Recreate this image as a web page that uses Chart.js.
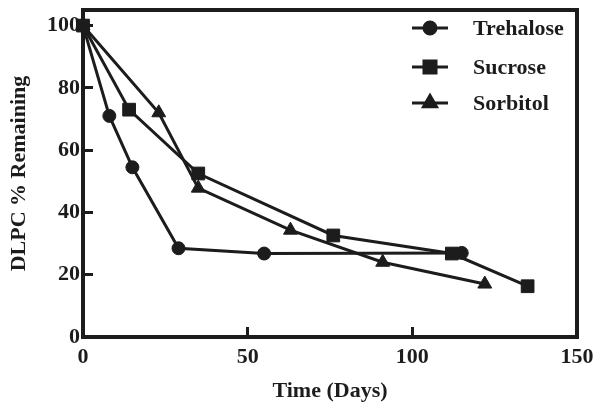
<!DOCTYPE html>
<html>
<head>
<meta charset="utf-8">
<script src="https://cdn.jsdelivr.net/npm/chart.js@4"></script>
<style>
	html, body { margin: 0; padding: 0; background: #fff; }
	#wrap { width: 602px; height: 413px; }
</style>
</head>
<body>
<div id="wrap"><canvas id="line-chart" width="602" height="413"></canvas></div>
<script>
const seriesNames = ['Trehalose', 'Sucrose', 'Sorbitol'];
const trehaloseDays = [0, 8, 15, 29, 55, 115];
const trehaloseValues = [100, 71, 54.5, 28.5, 26.8, 27];
const sucroseDays = [0, 14, 35, 76, 112, 135];
const sucroseValues = [100, 73, 52.5, 32.6, 26.8, 16.3];
const sorbitolDays = [0, 23, 35, 63, 91, 122];
const sorbitolValues = [100, 72, 47.8, 34.3, 24, 17];
const xTicks = [0, 50, 100, 150];
const yTicks = [0, 20, 40, 60, 80, 100];

const ink = '#1c1c1c';
const serif = 'Liberation Serif';

function pts(xs, ys) {
	return xs.map((x, i) => ({ x: x, y: ys[i] }));
}

function series(label, xs, ys, style, radius) {
	return {
		label: label,
		data: pts(xs, ys),
		borderColor: ink,
		backgroundColor: ink,
		borderWidth: 3,
		pointStyle: style,
		pointRadius: radius,
		pointBorderWidth: 1,
		pointBorderColor: ink,
		pointBackgroundColor: ink,
		tension: 0,
		clip: false
	};
}

// frame + legend drawn by hand (line through marker, like the original)
const framePlugin = {
	id: 'frame',
	beforeDatasetsDraw(chart) {
		const a = chart.chartArea;
		const c = chart.ctx;
		c.save();
		c.strokeStyle = ink;
		c.lineWidth = 4;
		c.beginPath();
		c.moveTo(a.left, a.top);
		c.lineTo(a.right, a.top);
		c.lineTo(a.right, a.bottom);
		c.stroke();
		c.restore();
	},
	afterDraw(chart) {
		const c = chart.ctx;
		const rows = [28, 67, 103];
		c.save();
		chart.data.datasets.forEach((ds, i) => {
			const y = rows[i];
			c.strokeStyle = ink;
			c.lineWidth = 3;
			c.beginPath();
			c.moveTo(412, y);
			c.lineTo(448, y);
			c.stroke();
			c.fillStyle = ink;
			Chart.helpers.drawPoint(c, { pointStyle: ds.pointStyle, radius: ds.pointRadius - 0.5, borderWidth: 1 }, 430, y);
			c.fill();
			c.font = 'bold 22px "' + serif + '"';
			c.textAlign = 'left';
			c.textBaseline = 'middle';
			c.fillText(ds.label, 473, y + 1);
		});
		c.restore();
	}
};

new Chart(document.querySelector('#line-chart'), {
	type: 'line',
	data: {
		datasets: [
			series(seriesNames[0], trehaloseDays, trehaloseValues, 'circle', 6.5),
			series(seriesNames[1], sucroseDays, sucroseValues, 'rect', 9),
			series(seriesNames[2], sorbitolDays, sorbitolValues, 'triangle', 8)
		]
	},
	options: {
		responsive: false,
		animation: false,
		maintainAspectRatio: false,
		layout: { padding: { top: 8, right: 25, left: 0, bottom: 0 } },
		plugins: {
			legend: { display: false },
			tooltip: { enabled: false }
		},
		scales: {
			x: {
				type: 'linear',
				min: 0,
				max: 150,
				afterFit(s) { s.height = 76; s.paddingLeft = 0; s.paddingRight = 0; },
				afterBuildTicks(s) { s.ticks = xTicks.map(v => ({ value: v })); },
				border: { color: ink, width: 4 },
				grid: { drawOnChartArea: false, color: ink, lineWidth: 3, tickLength: -10 },
				ticks: {
					color: ink,
					padding: 17,
					maxRotation: 0,
					font: { family: serif, size: 22, weight: 'bold' }
				},
				title: {
					display: true,
					text: 'Time (Days)',
					color: ink,
					padding: { top: 0, bottom: 8 },
					font: { family: serif, size: 22, weight: 'bold' }
				}
			},
			y: {
				min: 0,
				max: 105,
				afterFit(s) { s.width = 83; s.paddingTop = 0; s.paddingBottom = 0; },
				afterBuildTicks(s) { s.ticks = yTicks.map(v => ({ value: v })); },
				border: { color: ink, width: 4 },
				grid: { drawOnChartArea: false, color: ink, lineWidth: 3, tickLength: -10 },
				ticks: {
					color: ink,
					padding: 13,
					font: { family: serif, size: 22, weight: 'bold' }
				},
				title: {
					display: true,
					text: 'DLPC % Remaining',
					color: ink,
					padding: { top: 6, bottom: 0 },
					font: { family: serif, size: 22, weight: 'bold' }
				}
			}
		}
	},
	plugins: [framePlugin]
});
</script>
</body>
</html>
